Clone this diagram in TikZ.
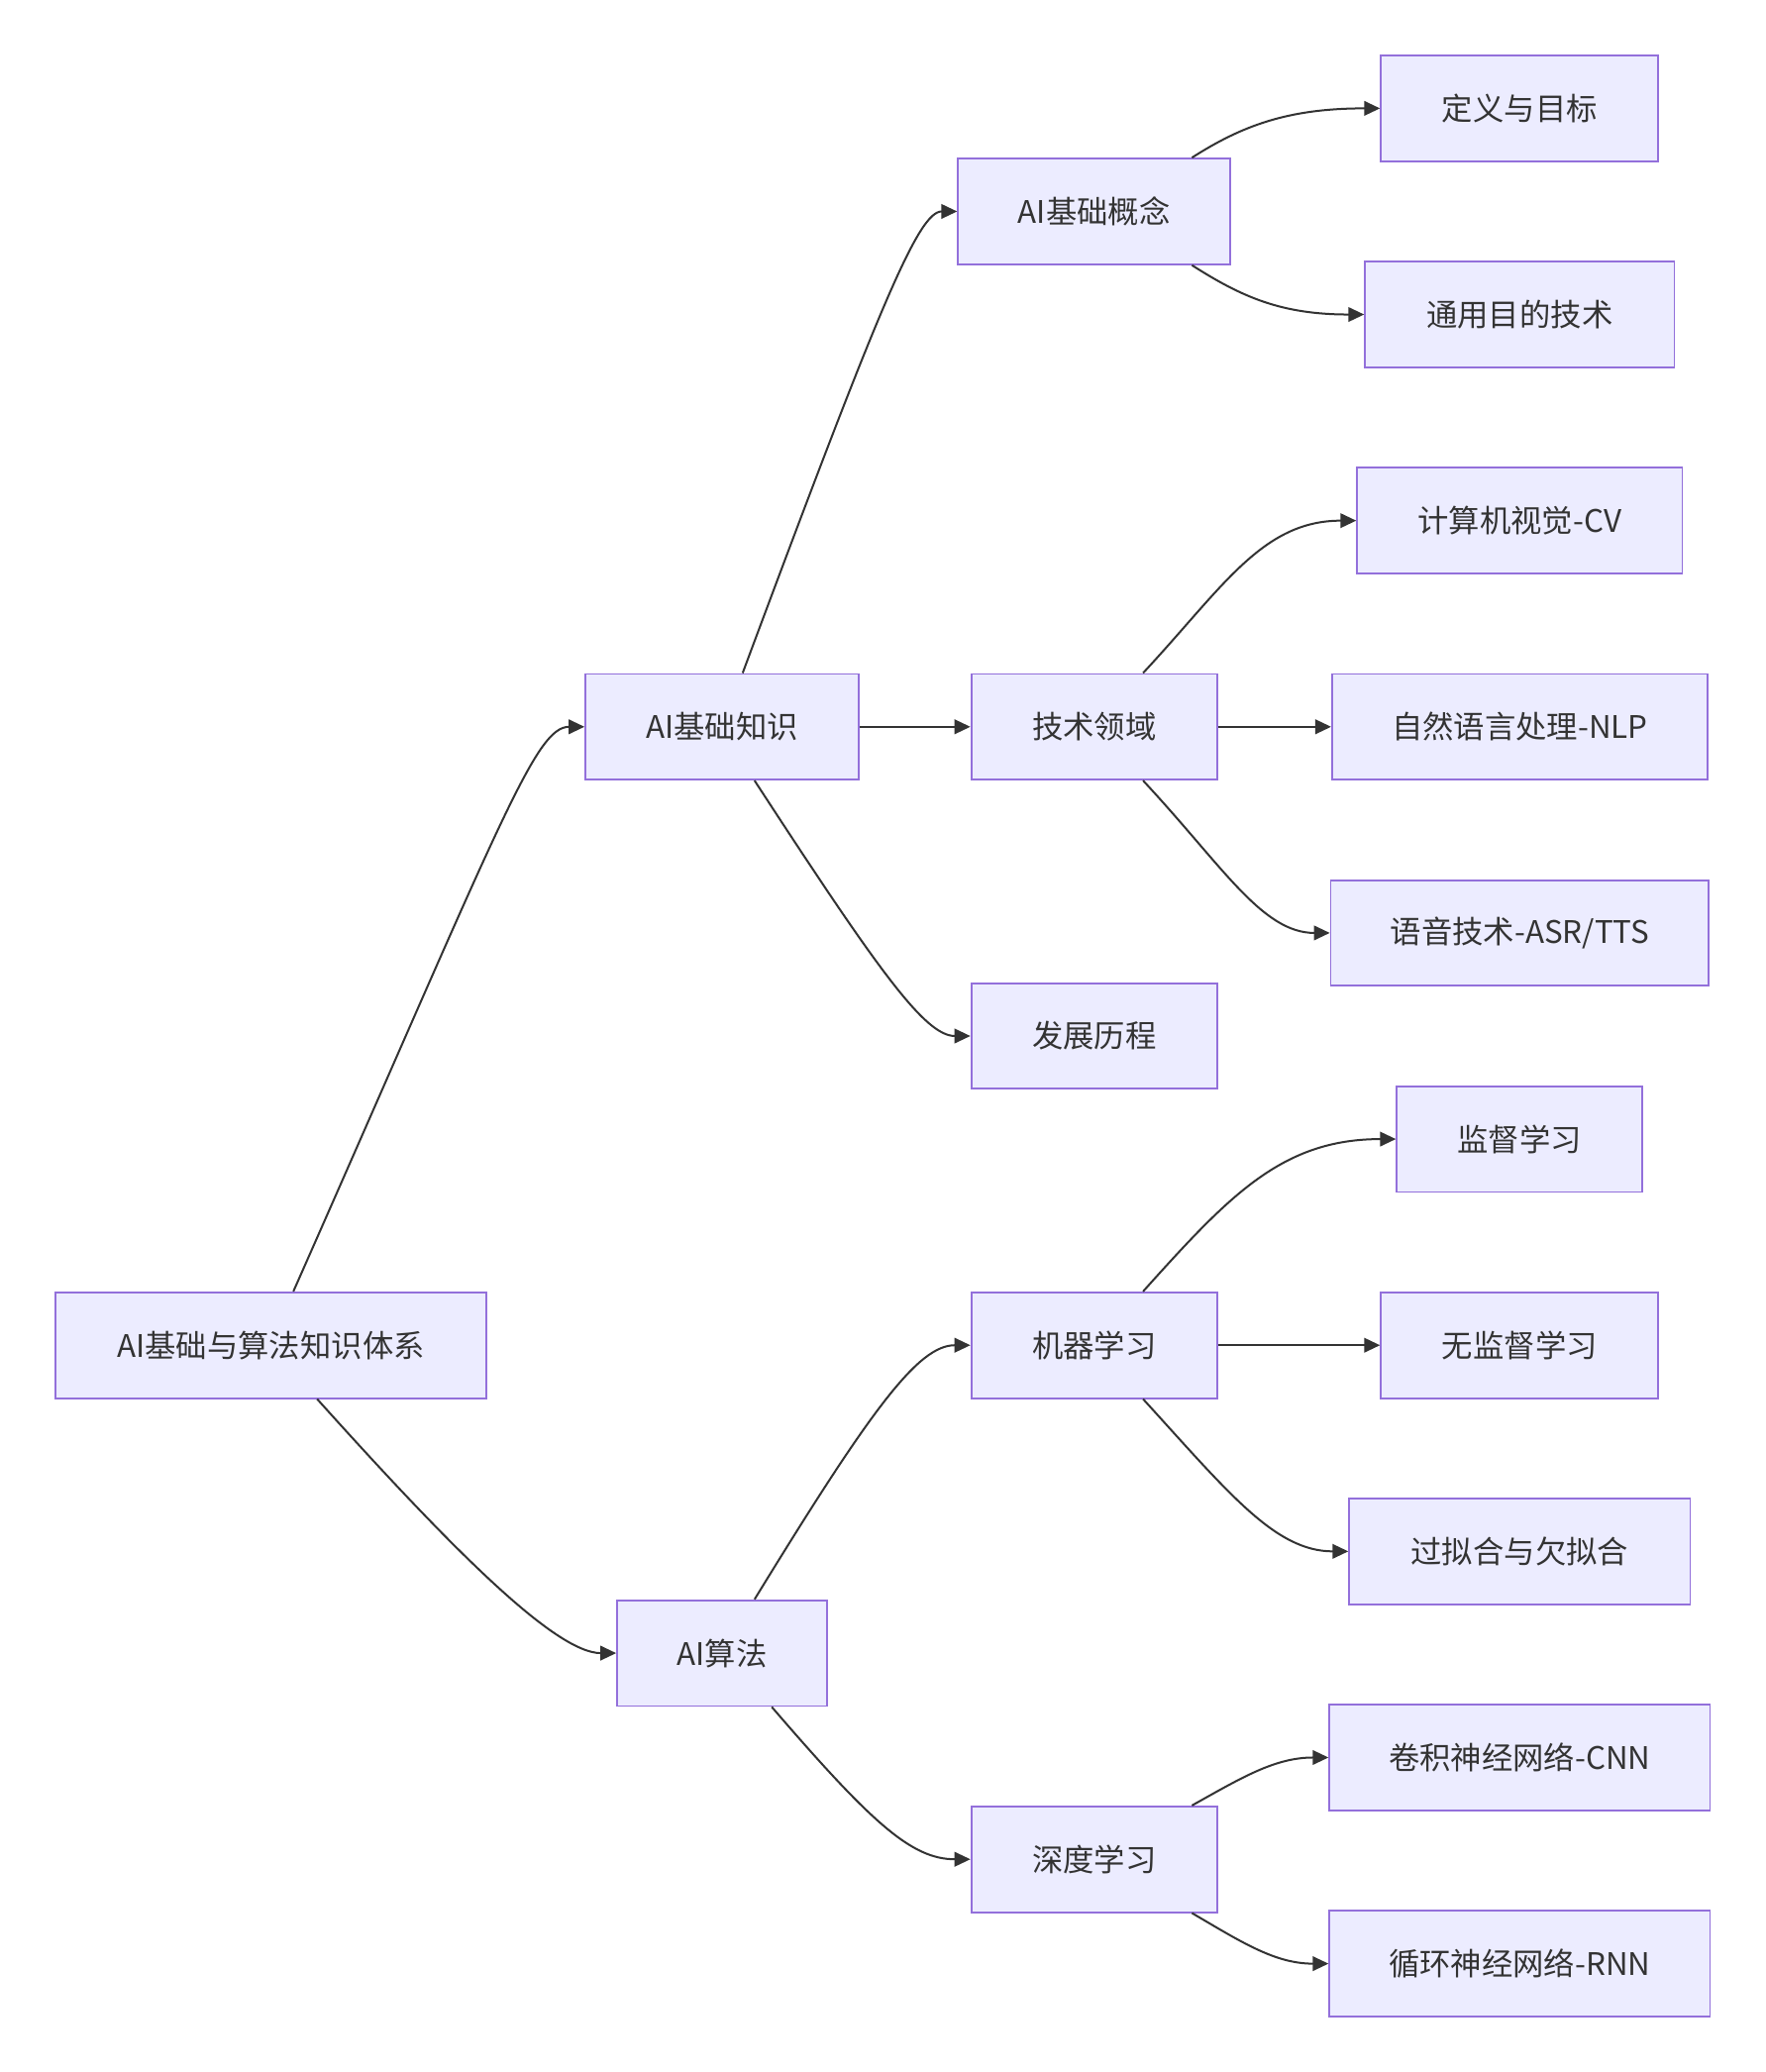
\documentclass[tikz,border=0pt]{standalone}
\usepackage{fontspec}
\setmainfont{Noto Sans CJK SC}
\usetikzlibrary{arrows.meta}
\definecolor{nodefill}{HTML}{ECECFF}
\definecolor{nodedraw}{HTML}{9370DB}
\definecolor{linecol}{HTML}{333333}
\begin{document}
\begin{tikzpicture}[x=1pt,y=-1pt,
  box/.style={draw=nodedraw,fill=nodefill,line width=1.4pt,minimum height=80pt,inner sep=0pt,
    text=linecol,font=\fontsize{23.5}{28}\selectfont},
  edge/.style={draw=linecol,line width=1.5pt,-{Triangle[length=12pt,width=11pt]}}]
\useasboundingbox (0,0) rectangle (1336,1568);
% nodes
\node[box,minimum width=326pt] (root) at (205,1018) {AI基础与算法知识体系};
\node[box,minimum width=207pt] (kb) at (546.5,550) {AI基础知识};
\node[box,minimum width=159pt] (algo) at (546.5,1251) {AI算法};
\node[box,minimum width=206pt] (concept) at (828,160) {AI基础概念};
\node[box,minimum width=186pt] (tech) at (828,550) {技术领域};
\node[box,minimum width=186pt] (hist) at (828,784) {发展历程};
\node[box,minimum width=186pt] (ml) at (828,1018) {机器学习};
\node[box,minimum width=186pt] (dl) at (828,1407) {深度学习};
\node[box,minimum width=210pt] (def) at (1150,82) {定义与目标};
\node[box,minimum width=234pt] (gen) at (1150,238) {通用目的技术};
\node[box,minimum width=246pt] (cv) at (1150,394) {计算机视觉-CV};
\node[box,minimum width=284pt] (nlp) at (1150,550) {自然语言处理-NLP};
\node[box,minimum width=286pt] (asr) at (1150,706) {语音技术-ASR/TTS};
\node[box,minimum width=186pt] (sup) at (1150,862) {监督学习};
\node[box,minimum width=210pt] (unsup) at (1150,1018) {无监督学习};
\node[box,minimum width=258pt] (over) at (1150,1174) {过拟合与欠拟合};
\node[box,minimum width=288pt] (cnn) at (1150,1330) {卷积神经网络-CNN};
\node[box,minimum width=288pt] (rnn) at (1150,1486) {循环神经网络-RNN};
% edges
\draw[edge] ([xshift=17]root.north) .. controls (380,620) and (405,550) .. (kb.west);
\draw[edge] ([xshift=35]root.south) .. controls (340,1170) and (420,1251) .. (algo.west);
\draw[edge] ([xshift=15.5]kb.north) .. controls (666,230) and (695,160) .. (concept.west);
\draw[edge] (kb.east) -- (tech.west);
\draw[edge] ([xshift=24.5]kb.south) .. controls (665,735) and (700,784) .. (hist.west);
\draw[edge] ([xshift=74]concept.north) .. controls (940,95) and (975,82) .. (def.west);
\draw[edge] ([xshift=74]concept.south) .. controls (940,225) and (970,238) .. (gen.west);
\draw[edge] ([xshift=37]tech.north) .. controls (925,445) and (955,394) .. (cv.west);
\draw[edge] (tech.east) -- (nlp.west);
\draw[edge] ([xshift=37]tech.south) .. controls (925,655) and (955,706) .. (asr.west);
\draw[edge] ([xshift=24.5]algo.north) .. controls (660,1065) and (695,1018) .. (ml.west);
\draw[edge] ([xshift=37.5]algo.south) .. controls (660,1380) and (690,1407) .. (dl.west);
\draw[edge] ([xshift=37]ml.north) .. controls (930,905) and (970,862) .. (sup.west);
\draw[edge] (ml.east) -- (unsup.west);
\draw[edge] ([xshift=37]ml.south) .. controls (930,1130) and (965,1174) .. (over.west);
\draw[edge] ([xshift=74]dl.north) .. controls (940,1345) and (965,1330) .. (cnn.west);
\draw[edge] ([xshift=74]dl.south) .. controls (940,1470) and (965,1486) .. (rnn.west);
\end{tikzpicture}
\end{document}
